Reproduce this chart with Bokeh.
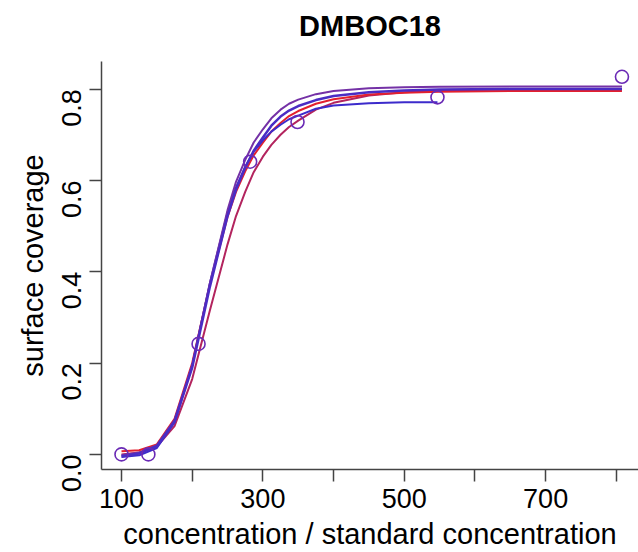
from math import pi
from bokeh.plotting import figure
from bokeh.models import Range1d, FixedTicker, LinearAxis
from bokeh.embed import file_html
from bokeh.resources import INLINE

# observed data
conc = [100, 138, 209, 282, 349, 547, 808]
coverage = [0.0, 0.0, 0.242, 0.641, 0.728, 0.782, 0.827]

# fitted curves
curve_x = [100, 125, 150, 175, 200, 225, 250, 262, 275, 287, 300, 312, 325, 337, 350, 375, 400, 450, 500, 550, 650, 808]
fit_purple = [-0.002, 0.004, 0.020, 0.075, 0.195, 0.375, 0.535, 0.597, 0.645, 0.683, 0.712, 0.736, 0.755, 0.768, 0.777, 0.789, 0.796, 0.802, 0.804, 0.805, 0.806, 0.806]
fit_blue = [-0.004, 0.002, 0.018, 0.072, 0.190, 0.367, 0.522, 0.580, 0.628, 0.665, 0.694, 0.720, 0.740, 0.753, 0.763, 0.776, 0.785, 0.793, 0.797, 0.799, 0.800, 0.800]
fit_red = [0.007, 0.009, 0.022, 0.078, 0.200, 0.372, 0.520, 0.575, 0.620, 0.655, 0.683, 0.707, 0.726, 0.741, 0.752, 0.768, 0.778, 0.788, 0.792, 0.794, 0.796, 0.796]
fit_crimson = [0.000, 0.004, 0.017, 0.062, 0.165, 0.315, 0.460, 0.522, 0.575, 0.618, 0.652, 0.678, 0.700, 0.717, 0.731, 0.755, 0.770, 0.786, 0.793, 0.797, 0.799, 0.800]
short_x = [100, 125, 150, 175, 200, 225, 250, 262, 275, 287, 300, 312, 325, 337, 350, 375, 400, 450, 500, 547]
fit_blue_low = [-0.006, -0.002, 0.014, 0.070, 0.195, 0.375, 0.530, 0.585, 0.630, 0.663, 0.688, 0.707, 0.722, 0.734, 0.742, 0.757, 0.764, 0.769, 0.771, 0.771]

x_ticks = [100, 200, 300, 400, 500, 600, 700, 800]
y_ticks = [0.0, 0.2, 0.4, 0.6, 0.8]
title_text = "DMBOC18"

FONT = "Liberation Sans"

p = figure(width=638, height=552, output_backend="svg", toolbar_location=None,
           x_range=Range1d(71.7, 831.4), y_range=Range1d(-0.0331, 0.8605),
           min_border_left=101, min_border_right=0, min_border_top=61, min_border_bottom=81)
p.outline_line_color = None
p.xgrid.visible = False
p.ygrid.visible = False
p.background_fill_color = "white"
p.border_fill_color = "white"

for ax in (p.xaxis[0], p.yaxis[0]):
    ax.axis_line_color = "#444444"
    ax.axis_line_width = 1.5
    ax.major_tick_line_color = "#444444"
    ax.major_tick_line_width = 1.5
    ax.major_tick_in = 0
    ax.major_tick_out = 12
    ax.minor_tick_line_color = None
    ax.major_label_text_font = FONT
    ax.major_label_text_font_size = "27px"
    ax.major_label_text_color = "black"
    ax.axis_label_text_font = FONT
    ax.axis_label_text_font_size = "29px"
    ax.axis_label_text_font_style = "normal"
    ax.axis_label_text_color = "black"

p.xaxis.ticker = FixedTicker(ticks=x_ticks)
p.xaxis.major_label_overrides = {t: ("" if t in (200, 400, 600, 800) else str(t)) for t in x_ticks}
p.xaxis.axis_label = "concentration / standard concentration"
p.xaxis.major_label_standoff = 7
p.xaxis.axis_label_standoff = 7

p.yaxis.ticker = FixedTicker(ticks=y_ticks)
p.yaxis.major_label_overrides = {t: f"{t:.1f}" for t in y_ticks}
p.yaxis.major_label_orientation = pi / 2
p.yaxis.axis_label = "surface coverage"
p.yaxis.major_label_standoff = 18
p.yaxis.axis_label_standoff = 1

# title drawn as the label of an empty axis above the frame
top_axis = LinearAxis(ticker=FixedTicker(ticks=[]), axis_label=title_text,
                      axis_line_color=None, major_tick_line_color=None, minor_tick_line_color=None,
                      major_tick_out=0, major_tick_in=0, major_label_standoff=0,
                      major_label_text_font_size="0px", axis_label_standoff=20,
                      axis_label_text_font=FONT, axis_label_text_font_size="29px",
                      axis_label_text_font_style="bold", axis_label_text_color="black")
p.add_layout(top_axis, "above")

lw = 2
p.line(curve_x, fit_crimson, line_color="#B3245E", line_width=lw)
p.line(curve_x, fit_red, line_color="#E3202E", line_width=lw)
p.line(short_x, fit_blue_low, line_color="#3C2BCB", line_width=lw)
p.line(curve_x, fit_purple, line_color="#7431A6", line_width=lw)
p.line(curve_x, fit_blue, line_color="#4A2CC4", line_width=2.5)

p.scatter(conc, coverage, marker="circle", size=13, fill_color=None,
          line_color="#6A2AB5", line_width=1.6)

open("out.html", "w").write(file_html(p, INLINE))
